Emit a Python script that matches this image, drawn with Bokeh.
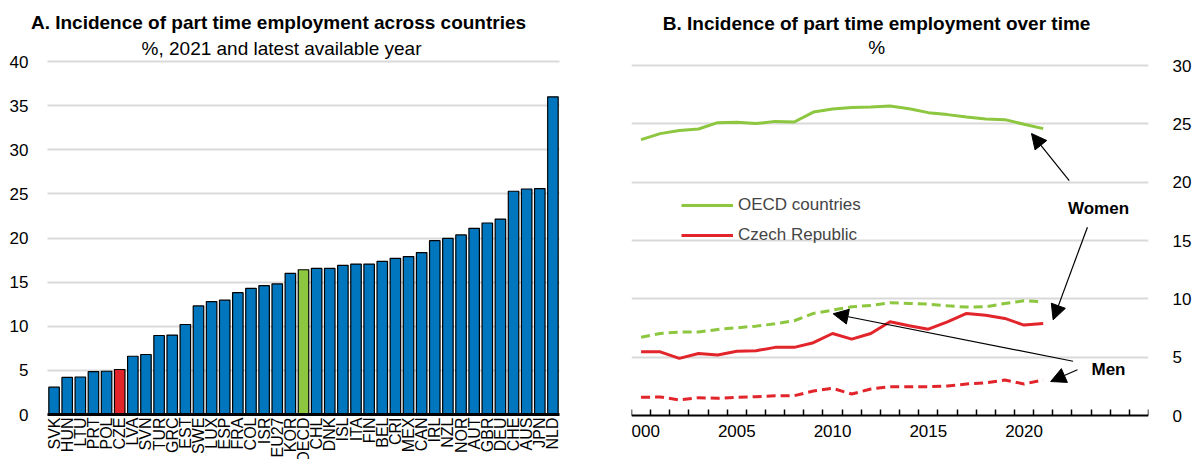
from math import pi
from bokeh.plotting import figure
from bokeh.models import (Range1d, FixedTicker, Legend, LegendItem, Label,
                          Arrow, NormalHead, ColumnDataSource)
from bokeh.layouts import row
from bokeh.embed import file_html
from bokeh.resources import INLINE

FONT = "Liberation Sans"

# ---------------- Data ----------------
countries = ["SVK", "HUN", "LTU", "PRT", "POL", "CZE", "LVA", "SVN", "TUR", "GRC", "EST",
             "SWE", "LUX", "ESP", "FRA", "COL", "ISR", "EU27", "KOR", "OECD", "CHL", "DNK",
             "ISL", "ITA", "FIN", "BEL", "CRI", "MEX", "CAN", "IRL", "NZL", "NOR", "AUT",
             "GBR", "DEU", "CHE", "AUS", "JPN", "NLD"]
incidence = [3.1, 4.2, 4.25, 4.85, 4.9, 5.1, 6.6, 6.8, 8.95, 9.0, 10.2,
             12.3, 12.8, 12.95, 13.8, 14.3, 14.6, 14.8, 16.0, 16.4, 16.55, 16.55,
             16.9, 17.05, 17.05, 17.35, 17.7, 17.9, 18.35, 19.7, 19.95, 20.35, 21.1,
             21.7, 22.15, 25.3, 25.55, 25.6, 36.0]

years = list(range(2000, 2022))
oecd_women = [23.65, 24.16, 24.42, 24.56, 25.1, 25.13, 25.02, 25.21, 25.16, 26.01, 26.27,
              26.41, 26.44, 26.52, 26.3, 25.96, 25.79, 25.58, 25.41, 25.36, 24.96, 24.59]
cze_women = [5.46, 5.46, 4.9, 5.32, 5.18, 5.5, 5.55, 5.84, 5.84, 6.24, 7.03,
             6.55, 7.03, 8.03, 7.7, 7.4, 8.03, 8.75, 8.6, 8.32, 7.75, 7.89]
oecd_men = [6.7, 7.03, 7.15, 7.15, 7.38, 7.52, 7.66, 7.86, 8.12, 8.75, 9.03,
            9.32, 9.43, 9.66, 9.6, 9.55, 9.4, 9.29, 9.32, 9.6, 9.83, 9.74]
cze_men = [1.56, 1.59, 1.33, 1.53, 1.47, 1.56, 1.61, 1.7, 1.7, 2.1, 2.33,
           1.84, 2.27, 2.47, 2.47, 2.47, 2.53, 2.7, 2.81, 3.04, 2.7, 3.04]

BLUE, RED, GREEN = "#0076BE", "#E2242B", "#8DC63F"
GRID = "#D9D9D9"
highlight = {"CZE": RED, "OECD": GREEN}
colors = [highlight.get(c, BLUE) for c in countries]

TICK = "17px"
TITLE = "19px"
H = 459

# ---------------- Panel A (plot frame covers the whole canvas) ----------------
n = len(countries)
A_W = 606
PL, PW = 47, 512            # plot area left / width in pixels
PT, PB = 61, 414            # pixel rows of the 40 and 0 lines
ux = PW / n
uy = (PB - PT) / 40.0
xpad = PL / ux

idx = [i + 0.5 for i in range(n)]
srcA = ColumnDataSource(dict(x=idx, value=incidence, color=colors))
pA = figure(x_range=Range1d(-xpad, n + xpad),
            y_range=Range1d(-(H - PB) / uy, 40 + PT / uy),
            width=A_W, height=H, output_backend="svg", toolbar_location=None,
            min_border=0, min_border_left=0, min_border_right=0,
            min_border_top=0, min_border_bottom=0)
pA.title.visible = False
pA.outline_line_color = None
pA.vbar(x="x", top="value", width=0.8, source=srcA,
        fill_color="color", line_color="black", line_width=1.2)
pA.xgrid.grid_line_color = None
pA.ygrid.ticker = FixedTicker(ticks=[5, 10, 15, 20, 25, 30, 35, 40])
pA.ygrid.grid_line_color = GRID
pA.ygrid.grid_line_width = 2
pA.ygrid.cross_bounds = (0, n)

pA.yaxis.fixed_location = 0
pA.yaxis.ticker = FixedTicker(ticks=[0, 5, 10, 15, 20, 25, 30, 35, 40])
pA.yaxis.axis_line_color = None
pA.yaxis.major_tick_line_color = None
pA.yaxis.major_tick_in = 0
pA.yaxis.major_tick_out = 0
pA.yaxis.minor_tick_line_color = None
pA.yaxis.major_label_standoff = 19
pA.yaxis.major_label_text_font = FONT
pA.yaxis.major_label_text_font_size = TICK
pA.yaxis.major_label_text_color = "black"

pA.xaxis.fixed_location = 0
pA.xaxis.bounds = (0, n)
pA.xaxis.ticker = FixedTicker(ticks=idx)
pA.xaxis.major_label_overrides = {x: c for x, c in zip(idx, countries)}
pA.xaxis.axis_line_color = "black"
pA.xaxis.axis_line_width = 3
pA.xaxis.major_tick_line_color = None
pA.xaxis.major_tick_in = 0
pA.xaxis.major_tick_out = 0
pA.xaxis.minor_tick_line_color = None
pA.xaxis.major_label_orientation = pi / 2
pA.xaxis.major_label_standoff = 3
pA.xaxis.major_label_text_font = FONT
pA.xaxis.major_label_text_font_size = "16px"
pA.xaxis.major_label_text_color = "black"

pA.add_layout(Label(x=(278 - PL) / ux, y=(PB - 22.2) / uy,
                    text="A. Incidence of part time employment across countries",
                    text_align="center", text_baseline="middle", text_font=FONT,
                    text_font_style="bold", text_font_size=TITLE, text_color="black"))
pA.add_layout(Label(x=(281 - PL) / ux, y=(PB - 47.9) / uy,
                    text="%, 2021 and latest available year",
                    text_align="center", text_baseline="middle", text_font=FONT,
                    text_font_size=TITLE, text_color="black"))

# ---------------- Panel B (plot frame spans the full height) ----------------
B_W = 1196 - A_W
B_ZERO = 415
uyB = (B_ZERO - 65) / 30.0
pB = figure(x_range=Range1d(1999.5, 2026.5),
            y_range=Range1d(-(H - B_ZERO) / uyB, 30 + 65 / uyB),
            width=B_W, height=H, y_axis_location="right",
            output_backend="svg", toolbar_location=None,
            min_border=0, min_border_left=25, min_border_right=48, min_border_top=0,
            min_border_bottom=0)
pB.title.visible = False
pB.outline_line_color = None
pB.xgrid.grid_line_color = None
pB.ygrid.ticker = FixedTicker(ticks=[5, 10, 15, 20, 25, 30])
pB.ygrid.grid_line_color = GRID
pB.ygrid.grid_line_width = 2

pB.yaxis.ticker = FixedTicker(ticks=[0, 5, 10, 15, 20, 25, 30])
pB.yaxis.axis_line_color = None
pB.yaxis.major_tick_line_color = None
pB.yaxis.major_tick_in = 0
pB.yaxis.major_tick_out = 0
pB.yaxis.minor_tick_line_color = None
pB.yaxis.major_label_standoff = 24
pB.yaxis.major_label_text_font = FONT
pB.yaxis.major_label_text_font_size = TICK
pB.yaxis.major_label_text_color = "black"

pB.xaxis.fixed_location = 0
pB.xaxis.ticker = FixedTicker(ticks=[2000, 2005, 2010, 2015, 2020],
                              minor_ticks=[1999.5 + i for i in range(28)])
pB.xaxis.axis_line_color = "black"
pB.xaxis.axis_line_width = 2
pB.xaxis.major_tick_line_color = None
pB.xaxis.major_tick_in = 0
pB.xaxis.major_tick_out = 0
pB.xaxis.minor_tick_line_color = "black"
pB.xaxis.minor_tick_line_width = 1.5
pB.xaxis.minor_tick_in = 6
pB.xaxis.minor_tick_out = 0
pB.xaxis.major_label_standoff = 9
pB.xaxis.major_label_text_font = FONT
pB.xaxis.major_label_text_font_size = TICK
pB.xaxis.major_label_text_color = "black"

r_ow = pB.line(years, oecd_women, line_color=GREEN, line_width=3)
r_cw = pB.line(years, cze_women, line_color=RED, line_width=3)
pB.line(years, oecd_men, line_color=GREEN, line_width=3, line_dash="9 5")
pB.line(years, cze_men, line_color=RED, line_width=3, line_dash="9 5")

legend = Legend(items=[LegendItem(label="OECD countries", renderers=[r_ow]),
                       LegendItem(label="Czech Republic", renderers=[r_cw])],
                location=(50, 170 + (H - B_ZERO)), glyph_width=52, glyph_height=20,
                label_height=20, label_standoff=5, spacing=10, padding=10, margin=0,
                label_text_font=FONT, label_text_font_size=TICK,
                border_line_color=None, background_fill_alpha=0)
pB.add_layout(legend)

def arrow(x0, y0, x1, y1):
    pB.add_layout(Arrow(end=NormalHead(size=15, fill_color="black", line_color="black"),
                        x_start=x0, y_start=y0, x_end=x1, y_end=y1,
                        line_color="black", line_width=1.2))

arrow(2022.36, 20.14, 2020.39, 24.17)
arrow(2023.31, 16.14, 2021.52, 8.2)
arrow(2022.56, 4.65, 2010.03, 8.72)
arrow(2022.79, 3.92, 2021.39, 2.91)

pB.add_layout(Label(x=2023.89, y=17.74, text="Women", text_align="center", text_baseline="middle",
                    text_font=FONT, text_font_style="bold", text_font_size=TICK,
                    text_color="black"))
pB.add_layout(Label(x=2024.41, y=3.94, text="Men", text_align="center", text_baseline="middle",
                    text_font=FONT, text_font_style="bold", text_font_size=TICK,
                    text_color="black"))

pB.add_layout(Label(x=2012.3, y=(B_ZERO - 22.7) / uyB,
                    text="B. Incidence of part time employment over time",
                    text_align="center", text_baseline="middle", text_font=FONT,
                    text_font_style="bold", text_font_size=TITLE, text_color="black"))
pB.add_layout(Label(x=2012.3, y=(B_ZERO - 47.4) / uyB, text="%",
                    text_align="center", text_baseline="middle", text_font=FONT,
                    text_font_size=TITLE, text_color="black"))

layout = row(pA, pB, spacing=0)
open("out.html", "w").write(file_html(layout, INLINE))
